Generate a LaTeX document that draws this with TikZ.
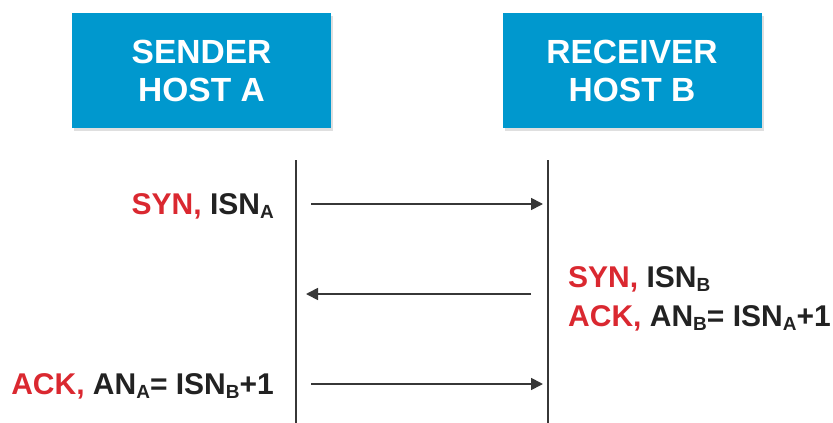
\documentclass[tikz,border=0pt]{standalone}
\usepackage{fontspec}
\setmainfont{Liberation Sans}
\usetikzlibrary{arrows.meta,shadows}
\definecolor{boxblue}{RGB}{0,152,206}
\definecolor{synred}{RGB}{218,40,48}
\definecolor{darktxt}{RGB}{34,34,34}
\definecolor{linegray}{RGB}{55,55,55}
\newcommand{\sbs}[1]{\raisebox{-0.3ex}{\fontsize{19}{19}\selectfont #1}}
\newcommand{\rd}[1]{\textcolor{synred}{#1}}
\tikzset{
  hostbox/.style={fill=boxblue, minimum width=259pt, minimum height=115pt, inner sep=0pt,
    text=white, font=\bfseries\fontsize{33.5}{38}\selectfont, align=center,
    drop shadow={shadow xshift=2pt, shadow yshift=-3pt, fill=black!25}},
  lifeline/.style={draw=linegray, line width=2.8pt},
  msg/.style={draw=linegray, line width=1.7pt, -{Triangle[length=12pt,width=12pt]}},
  lbl/.style={text=darktxt, font=\bfseries\fontsize{30}{36}\selectfont, inner sep=0pt}
}
\begin{document}
\begin{tikzpicture}[x=1pt,y=-1pt]
\useasboundingbox (0,0) rectangle (833,423);
\node[hostbox] (A) at (201.5,70.5) {SENDER\\HOST A};
\node[hostbox] (B) at (632,70.5) {RECEIVER\\HOST B};
\coordinate (at) at (296,160);
\coordinate (ab) at (296,423);
\coordinate (bt) at (548,160);
\coordinate (bb) at (548,423);
\draw[lifeline] (at) -- (ab);
\draw[lifeline] (bt) -- (bb);
\coordinate (m1s) at (311,204);
\coordinate (m1e) at (543,204);
\coordinate (m2s) at (531,294);
\coordinate (m2e) at (306,294);
\coordinate (m3s) at (311,384);
\coordinate (m3e) at (543,384);
\draw[msg] (m1s) -- (m1e);
\draw[msg] (m2s) -- (m2e);
\draw[msg] (m3s) -- (m3e);
\node[lbl, anchor=east] (l1) at (274,206) {\rd{SYN,} ISN\sbs{A}};
\node[lbl, anchor=west] (l2) at (568,279) {\rd{SYN,} ISN\sbs{B}};
\node[lbl, anchor=west] (l3) at (568,318) {\rd{ACK,} AN\sbs{B}= ISN\sbs{A}+1};
\node[lbl, anchor=east] (l4) at (274,386) {\rd{ACK,} AN\sbs{A}= ISN\sbs{B}+1};
\end{tikzpicture}
\end{document}
